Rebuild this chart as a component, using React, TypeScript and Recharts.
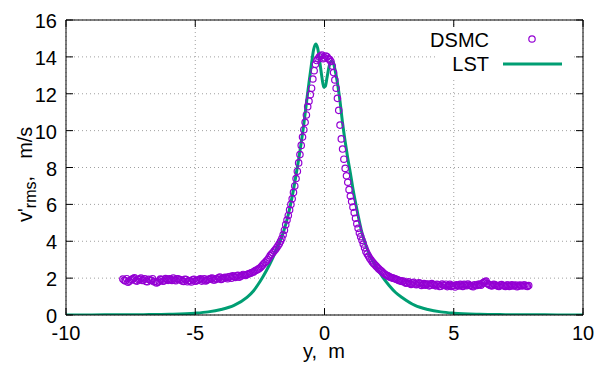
import React from "react";
import { ComposedChart, Line, Scatter, XAxis, YAxis, CartesianGrid, Customized } from "recharts";

// ─── Palette / font ───────────────────────────────────────────────────
const COLORS = {
  dsmc: "#9400D3",
  lst: "#009E73",
  grid: "#a0a0a0",
  axis: "#000000",
};
const FONT = '"Liberation Sans", Arial, sans-serif';

// ─── Data ─────────────────────────────────────────────────────────────
const xTicks = [-10, -5, 0, 5, 10];
const yTicks = [0, 2, 4, 6, 8, 10, 12, 14, 16];

// DSMC samples [y, v'rms]
const dsmcLeft: [number, number][] = [
  [-7.8, 1.95], [-7.7, 1.85], [-7.6, 1.78], [-7.5, 1.9], [-7.4, 1.98], [-7.3, 1.86], [-7.2, 1.92],
  [-7.1, 2.0], [-7.0, 1.9], [-6.9, 1.82], [-6.8, 1.94], [-6.7, 1.88], [-6.6, 1.8], [-6.5, 1.74],
  [-6.4, 1.84], [-6.3, 1.92], [-6.2, 1.86], [-6.1, 1.93], [-6.0, 1.97], [-5.9, 1.87], [-5.8, 1.9],
  [-5.7, 1.97], [-5.6, 1.92], [-5.5, 1.85], [-5.4, 1.94], [-5.3, 1.8], [-5.2, 1.86], [-5.1, 1.91],
  [-5.0, 1.83], [-4.9, 1.88], [-4.8, 1.96], [-4.7, 1.9], [-4.6, 1.85], [-4.5, 1.93], [-4.4, 1.98],
  [-4.3, 1.9], [-4.2, 1.96], [-4.1, 2.02], [-4.0, 1.93], [-3.9, 1.99], [-3.8, 2.03], [-3.7, 2.07],
  [-3.6, 2.0], [-3.5, 2.09], [-3.4, 2.12], [-3.3, 2.05], [-3.2, 2.13], [-3.1, 2.16], [-3.0, 2.2],
  [-2.9, 2.25], [-2.8, 2.3], [-2.7, 2.38], [-2.6, 2.45], [-2.5, 2.55], [-2.4, 2.7], [-2.3, 2.85],
  [-2.2, 3.0], [-2.1, 3.22], [-2.0, 3.38], [-1.9, 3.55], [-1.8, 3.75], [-1.7, 4.0], [-1.6, 4.35],
  [-1.55, 4.6],
];

const dsmcLeftMid: [number, number][] = [
  [-7.75, 1.88], [-7.65, 1.97], [-7.55, 1.83], [-7.45, 1.93], [-7.35, 2.02], [-7.25, 1.84],
  [-7.15, 1.95], [-7.05, 1.87], [-6.95, 1.96], [-6.85, 1.8], [-6.75, 1.9], [-6.65, 1.97],
  [-6.55, 1.82], [-6.45, 1.77], [-6.35, 1.95], [-6.25, 1.83], [-6.15, 1.98], [-6.05, 1.88],
  [-5.95, 1.93], [-5.85, 2.0], [-5.75, 1.86], [-5.65, 1.95], [-5.55, 1.9], [-5.45, 1.82],
  [-5.35, 1.92], [-5.25, 1.86], [-5.15, 1.79], [-5.05, 1.94], [-4.95, 1.86], [-4.85, 1.92],
  [-4.75, 1.84], [-4.65, 1.96], [-4.55, 1.88], [-4.45, 1.94], [-4.35, 2.0], [-4.25, 1.9],
  [-4.15, 1.95], [-4.05, 2.06], [-3.95, 1.96], [-3.85, 2.04], [-3.75, 1.97], [-3.65, 2.08],
  [-3.55, 2.13], [-3.45, 2.04], [-3.35, 2.15], [-3.25, 2.1], [-3.15, 2.2], [-3.05, 2.14],
  [-2.95, 2.22], [-2.85, 2.28], [-2.75, 2.33], [-2.65, 2.43], [-2.55, 2.5], [-2.45, 2.62],
  [-2.35, 2.78], [-2.25, 2.92], [-2.15, 3.1], [-2.05, 3.3], [-1.95, 3.47], [-1.85, 3.65],
  [-1.75, 3.86], [-1.65, 4.15],
];

const dsmcCore: [number, number][] = [
  [-1.5, 4.9], [-1.45, 5.15], [-1.4, 5.4], [-1.35, 5.7], [-1.3, 6.0], [-1.25, 6.3], [-1.2, 6.65],
  [-1.15, 7.0], [-1.1, 7.4], [-1.05, 7.8], [-1.0, 8.25], [-0.95, 8.7], [-0.9, 9.2], [-0.85, 9.65],
  [-0.8, 10.05], [-0.75, 10.45], [-0.7, 10.85], [-0.65, 11.3], [-0.6, 11.6], [-0.55, 11.95],
  [-0.5, 12.3], [-0.45, 12.8], [-0.4, 13.25], [-0.35, 13.6], [-0.3, 13.8], [-0.25, 13.9],
  [-0.2, 14.0], [-0.15, 14.05], [-0.1, 14.1], [-0.05, 13.9], [0.0, 13.95], [0.05, 14.05],
  [0.1, 14.0], [0.15, 13.9], [0.2, 13.85], [0.25, 13.75], [0.3, 13.5], [0.35, 13.15], [0.4, 12.75],
  [0.45, 12.3], [0.5, 11.75], [0.55, 11.1], [0.6, 10.3], [0.65, 9.55], [0.7, 9.0], [0.75, 8.45],
  [0.8, 7.95], [0.85, 7.55], [0.9, 7.2], [0.95, 6.8], [1.0, 6.45], [1.05, 6.15], [1.1, 5.85],
  [1.15, 5.55], [1.2, 5.25], [1.25, 4.95], [1.3, 4.7], [1.35, 4.45], [1.4, 4.25], [1.45, 4.05],
  [1.5, 3.85],
];

const dsmcRight: [number, number][] = [
  [1.55, 3.65], [1.6, 3.45], [1.7, 3.2], [1.8, 2.98], [1.9, 2.8], [2.0, 2.65], [2.1, 2.5],
  [2.2, 2.38], [2.3, 2.25], [2.4, 2.15], [2.5, 2.08], [2.6, 2.02], [2.7, 1.98], [2.8, 1.92],
  [2.9, 1.86], [3.0, 1.82], [3.1, 1.78], [3.2, 1.75], [3.3, 1.71], [3.4, 1.74], [3.5, 1.69],
  [3.6, 1.67], [3.7, 1.72], [3.8, 1.65], [3.9, 1.62], [4.0, 1.68], [4.1, 1.61], [4.2, 1.65],
  [4.3, 1.58], [4.4, 1.63], [4.5, 1.56], [4.6, 1.62], [4.7, 1.67], [4.8, 1.6], [4.9, 1.55],
  [5.0, 1.6], [5.1, 1.64], [5.2, 1.57], [5.3, 1.62], [5.4, 1.66], [5.5, 1.59], [5.6, 1.62],
  [5.7, 1.56], [5.8, 1.64], [5.9, 1.6], [6.0, 1.66], [6.1, 1.7], [6.2, 1.8], [6.3, 1.71],
  [6.4, 1.62], [6.5, 1.59], [6.6, 1.64], [6.7, 1.57], [6.8, 1.62], [6.9, 1.6], [7.0, 1.55],
  [7.1, 1.62], [7.2, 1.59], [7.3, 1.57], [7.4, 1.63], [7.5, 1.56], [7.6, 1.6], [7.7, 1.62],
  [7.8, 1.57], [7.9, 1.6],
];

const dsmcRightMid: [number, number][] = [
  [1.65, 3.32], [1.75, 3.08], [1.85, 2.88], [1.95, 2.72], [2.05, 2.57], [2.15, 2.44],
  [2.25, 2.32], [2.35, 2.2], [2.45, 2.12], [2.55, 2.05], [2.65, 2.0], [2.75, 1.95],
  [2.85, 1.9], [2.95, 1.85], [3.05, 1.84], [3.15, 1.72], [3.25, 1.8], [3.35, 1.66],
  [3.45, 1.78], [3.55, 1.64], [3.65, 1.74], [3.75, 1.6], [3.85, 1.7], [3.95, 1.66],
  [4.05, 1.58], [4.15, 1.7], [4.25, 1.62], [4.35, 1.66], [4.45, 1.55], [4.55, 1.68],
  [4.65, 1.6], [4.75, 1.54], [4.85, 1.66], [4.95, 1.6], [5.05, 1.52], [5.15, 1.6],
  [5.25, 1.66], [5.35, 1.55], [5.45, 1.62], [5.55, 1.68], [5.65, 1.6], [5.75, 1.53],
  [5.85, 1.6], [5.95, 1.67], [6.05, 1.62], [6.15, 1.76], [6.25, 1.84], [6.35, 1.66],
  [6.45, 1.58], [6.55, 1.66], [6.65, 1.6], [6.75, 1.55], [6.85, 1.65], [6.95, 1.58],
  [7.05, 1.62], [7.15, 1.55], [7.25, 1.64], [7.35, 1.6], [7.45, 1.53], [7.55, 1.62],
  [7.65, 1.57], [7.75, 1.63], [7.85, 1.55],
];

// LST profile [y, v'rms]
const lstProfile: [number, number][] = [
  [-10, 0], [-9, 0.005], [-8, 0.01], [-7, 0.02], [-6, 0.04], [-5, 0.1], [-4.5, 0.17], [-4, 0.3],
  [-3.5, 0.52], [-3, 0.95], [-2.75, 1.3], [-2.5, 1.8], [-2.25, 2.4], [-2, 3.1], [-1.8, 3.75],
  [-1.6, 4.45], [-1.4, 5.45], [-1.2, 6.8], [-1.1, 7.6], [-1, 8.45], [-0.9, 9.35], [-0.8, 10.35],
  [-0.7, 11.5], [-0.6, 12.6], [-0.5, 13.65], [-0.42, 14.4], [-0.34, 14.7], [-0.26, 14.45],
  [-0.18, 13.7], [-0.1, 12.9], [-0.03, 12.35], [0.03, 12.4], [0.1, 12.9], [0.18, 13.5],
  [0.26, 13.78], [0.33, 13.72], [0.4, 13.35], [0.5, 12.6], [0.6, 11.6], [0.7, 10.4], [0.8, 9.4],
  [0.9, 8.5], [1, 7.7], [1.1, 6.85], [1.2, 6.1], [1.3, 5.4], [1.45, 4.45], [1.6, 3.8], [1.8, 3.1],
  [2, 2.6], [2.25, 2.05], [2.5, 1.6], [2.75, 1.22], [3, 0.95], [3.5, 0.52], [4, 0.3], [4.5, 0.17],
  [5, 0.1], [6, 0.04], [7, 0.02], [8, 0.01], [9, 0.005], [10, 0],
];

const toRows = (pts: [number, number][]) => pts.map(([x, v]) => ({ x, v }));
const dsmcData = toRows([...dsmcLeft, ...dsmcLeftMid, ...dsmcCore, ...dsmcRight, ...dsmcRightMid]);
const lstData = toRows(lstProfile);

// ─── Ticks (gnuplot style, pointing inward, mirrored) ─────────────────
const TICK = 7;
const txt = { fontSize: 20, fontFamily: FONT, fill: "#000", style: { whiteSpace: "pre" as const } };

const BottomTick = ({ x, y, payload }: any) => (
  <g>
    <line x1={x} x2={x} y1={y} y2={y - TICK} stroke={COLORS.axis} />
    <text x={x} y={y + 25} textAnchor="middle" {...txt}>{payload.value}</text>
  </g>
);
const TopTick = ({ x, y }: any) => <line x1={x} x2={x} y1={y} y2={y + TICK} stroke={COLORS.axis} />;
const LeftTick = ({ x, y, payload }: any) => (
  <g>
    <line x1={x} x2={x + TICK} y1={y} y2={y} stroke={COLORS.axis} />
    <text x={x - 9} y={y + 8} textAnchor="end" {...txt}>{payload.value}</text>
  </g>
);
const RightTick = ({ x, y }: any) => <line x1={x} x2={x - TICK} y1={y} y2={y} stroke={COLORS.axis} />;

const Ring = ({ cx, cy }: any) => (
  <circle cx={cx} cy={cy} r={3.2} fill="none" stroke={COLORS.dsmc} strokeWidth={1.2} />
);

const Decor = () => (
  <g>
    {/* key box */}
    <rect x={437} y={28} width={136} height={50} fill="#fff" />
    <text x={489} y={47} textAnchor="end" {...txt}>DSMC</text>
    <circle cx={532} cy={39} r={3.2} fill="none" stroke={COLORS.dsmc} strokeWidth={1.2} />
    <text x={489} y={71} textAnchor="end" {...txt}>LST</text>
    <line x1={503} x2={562} y1={64} y2={64} stroke={COLORS.lst} strokeWidth={3} />
    {/* axis titles */}
    <text x={324} y={358} textAnchor="middle" {...txt}>y,  m</text>
    <text transform="translate(32 222) rotate(-90)" x={0} y={0} textAnchor="start" {...txt}>
      v'<tspan fontSize={16} dy={4}>rms</tspan>
      <tspan dy={-4}>,  </tspan>
      <tspan dx={6}>m/s</tspan>
    </text>
  </g>
);

export default function App() {
  return (
    <div style={{ position: "absolute", left: 0, top: 0, background: "#fff" }}>
      <ComposedChart width={597} height={367} margin={{ top: 0, right: 0, bottom: 0, left: 0 }}>
        <CartesianGrid stroke={COLORS.grid} strokeDasharray="1 3" />
        <XAxis
          type="number" dataKey="x" domain={[-10, 10]} ticks={xTicks} interval={0}
          height={52} tickSize={0} tickMargin={0} tick={BottomTick}
          axisLine={{ stroke: COLORS.axis }} tickLine={false} allowDataOverflow
        />
        <XAxis
          xAxisId="top" orientation="top" type="number" dataKey="x" domain={[-10, 10]} ticks={xTicks}
          interval={0} height={20} tickSize={0} tickMargin={0} tick={TopTick}
          axisLine={{ stroke: COLORS.axis }} tickLine={false} allowDataOverflow
        />
        <YAxis
          type="number" dataKey="v" domain={[0, 16]} ticks={yTicks} interval={0}
          width={66} tickSize={0} tickMargin={0} tick={LeftTick}
          axisLine={{ stroke: COLORS.axis }} tickLine={false} allowDataOverflow
        />
        <YAxis
          yAxisId="right" orientation="right" type="number" domain={[0, 16]} ticks={yTicks}
          interval={0} width={14} tickSize={0} tickMargin={0} tick={RightTick}
          axisLine={{ stroke: COLORS.axis }} tickLine={false} allowDataOverflow
        />
        <Scatter data={dsmcData} dataKey="v" shape={Ring} isAnimationActive={false} />
        <Line
          data={lstData} dataKey="v" type="monotone" stroke={COLORS.lst} strokeWidth={3}
          dot={false} activeDot={false} isAnimationActive={false}
        />
        <Customized component={Decor} />
      </ComposedChart>
    </div>
  );
}
